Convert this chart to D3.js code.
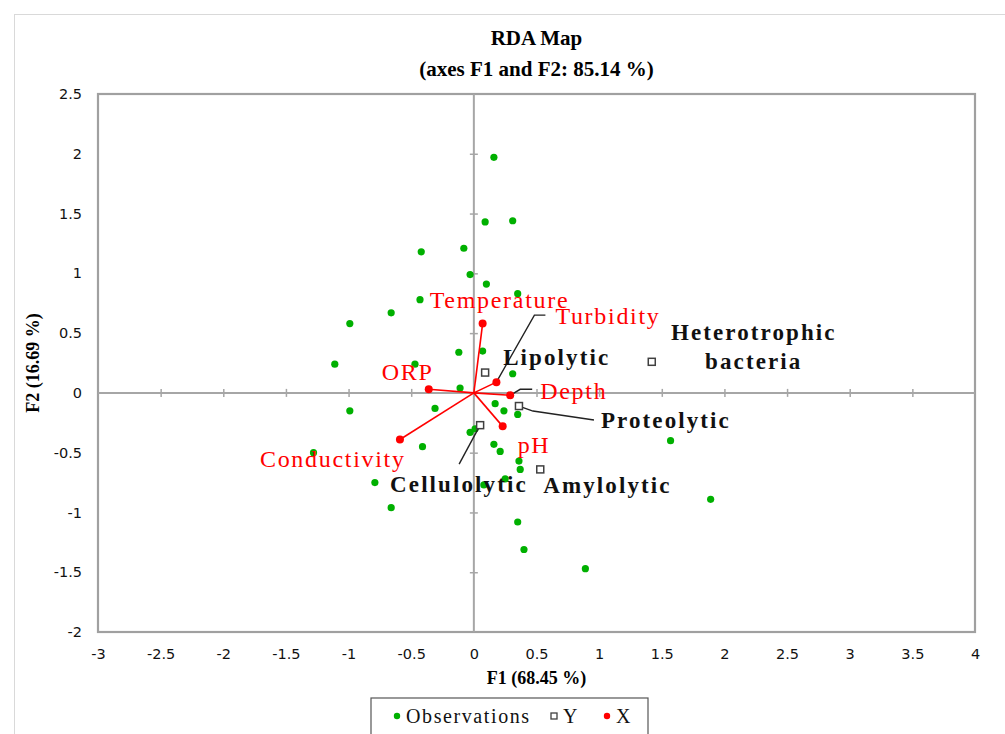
<!DOCTYPE html>
<html>
<head>
<meta charset="utf-8">
<script src="https://cdn.jsdelivr.net/npm/d3@7"></script>
<style>
  body { margin: 0; background: #fff; }
  svg { display: block; }
</style>
</head>
<body>
<div id="chart"></div>
<script>

/* chart data */
var xTicks = [-3, -2.5, -2, -1.5, -1, -0.5, 0, 0.5, 1, 1.5, 2, 2.5, 3, 3.5, 4];
var yTicks = [-2, -1.5, -1, -0.5, 0, 0.5, 1, 1.5, 2, 2.5];

// observations (green)
var obsF1 = [0.16, 0.09, 0.31, -0.42, -0.08, -0.03, 0.10, 0.35, -0.43, -0.66, -0.99,
             -1.11, -0.47, -0.12, 0.07, 0.31, -0.11, -0.99, -0.31, 0.17, 0.24, 0.35,
             -0.03, 0.01, -0.41, 0.16, 0.21, -1.28, 0.36, 0.37, -0.79, 0.08, 0.25,
             -0.66, 0.35, 0.40, 1.57, 1.89, 0.89];
var obsF2 = [1.97, 1.43, 1.44, 1.18, 1.21, 0.99, 0.91, 0.83, 0.78, 0.67, 0.58,
             0.24, 0.24, 0.34, 0.35, 0.16, 0.04, -0.15, -0.13, -0.09, -0.15, -0.18,
             -0.33, -0.30, -0.45, -0.43, -0.49, -0.50, -0.57, -0.64, -0.75, -0.77, -0.72,
             -0.96, -1.08, -1.31, -0.40, -0.89, -1.47];

// Y variables (squares)
var yNames = ["Lipolytic", "Proteolytic", "Heterotrophic bacteria", "Amylolytic", "Cellulolytic"];
var yF1 = [0.09, 0.36, 1.42, 0.53, 0.05];
var yF2 = [0.17, -0.11, 0.26, -0.64, -0.27];

// X variables (red vectors)
var xNames = ["Temperature", "Turbidity", "Depth", "pH", "Conductivity", "ORP"];
var xF1 = [0.07, 0.18, 0.29, 0.23, -0.59, -0.36];
var xF2 = [0.58, 0.09, -0.02, -0.28, -0.39, 0.03];

var legendNames = ["Observations", "Y", "X"];

/* label placement, pixel offsets from the point (lead = leader line bends) */
var xLabelPos = {
  "Temperature":  {dx: -53, dy: -16},
  "Turbidity":    {dx: 59, dy: -58, lead: [[38, -67], [49, -67]]},
  "Depth":        {dx: 30, dy: 4,  lead: [[10, -6], [22, -6]]},
  "pH":           {dx: 15, dy: 27},
  "Conductivity": {dx: -140, dy: 27},
  "ORP":          {dx: -47, dy: -9}
};
var yLabelPos = {
  "Lipolytic":    {dx: 18, dy: -8},
  "Proteolytic":  {dx: 82, dy: 22, lead: [[14, 5], [75, 14]]},
  "Heterotrophic bacteria": {dx: 102, dy: -22, center: true},
  "Amylolytic":   {dx: 3, dy: 24},
  "Cellulolytic": {dx: -90, dy: 67, lead: [[-21, 39]]}
};


var W = 1005, H = 734;
var margin = {top: 94, left: 98, right: 30, bottom: 102};
var width = W - margin.left - margin.right,
    height = H - margin.top - margin.bottom;

var x = d3.scaleLinear().domain([-3, 4]).range([0, width]);
var y = d3.scaleLinear().domain([-2, 2.5]).range([height, 0]);

var fmt = function (d) { return String(d); };
var serif = "'Liberation Serif', 'Times New Roman', serif";

var svg = d3.select("#chart").append("svg")
  .attr("width", W)
  .attr("height", H);

// outer chart border
svg.append("rect")
  .attr("x", 14.5).attr("y", 14.5)
  .attr("width", W).attr("height", H)
  .attr("fill", "none")
  .attr("stroke", "#d9d9d9");

// title
var title = svg.append("text")
  .attr("text-anchor", "middle")
  .style("font-family", serif)
  .style("font-weight", "bold")
  .style("font-size", "21px");
title.append("tspan").attr("x", margin.left + width / 2).attr("y", 45).text("RDA Map");
title.append("tspan").attr("x", margin.left + width / 2).attr("y", 76).text("(axes F1 and F2: 85.14 %)");

var g = svg.append("g")
  .attr("transform", "translate(" + margin.left + "," + margin.top + ")");

// frame
g.append("rect")
  .attr("width", width).attr("height", height)
  .attr("fill", "none")
  .attr("stroke", "#a0a0a0")
  .attr("stroke-width", 2.2);

// tick labels
var xAx = g.append("g")
  .attr("transform", "translate(0," + height + ")")
  .call(d3.axisBottom(x).tickValues(xTicks).tickFormat(fmt).tickSize(0).tickPadding(17));
var yAx = g.append("g")
  .call(d3.axisLeft(y).tickValues(yTicks).tickFormat(fmt).tickSize(0).tickPadding(16));
[xAx, yAx].forEach(function (a) {
  a.select(".domain").remove();
  a.selectAll("text")
    .style("font-family", "'DejaVu Sans', Verdana, sans-serif")
    .style("font-size", "14.5px")
    .attr("fill", "#111");
});

// zero lines with crossing ticks
g.append("line")
  .attr("x1", 0).attr("x2", width)
  .attr("y1", y(0)).attr("y2", y(0))
  .attr("stroke", "#a6a6a6").attr("stroke-width", 2);
g.append("line")
  .attr("x1", x(0)).attr("x2", x(0))
  .attr("y1", 0).attr("y2", height)
  .attr("stroke", "#a6a6a6").attr("stroke-width", 2);

var xz = g.append("g")
  .attr("transform", "translate(0," + (y(0) - 4) + ")")
  .call(d3.axisBottom(x).tickValues(xTicks.slice(1, -1)).tickFormat("").tickSize(8));
var yz = g.append("g")
  .attr("transform", "translate(" + (x(0) + 4) + ",0)")
  .call(d3.axisLeft(y).tickValues(yTicks.slice(1, -1)).tickFormat("").tickSize(8));
[xz, yz].forEach(function (a) {
  a.select(".domain").remove();
  a.selectAll("line").attr("stroke", "#a6a6a6").attr("stroke-width", 1.5);
});

// axis titles
svg.append("text")
  .attr("x", margin.left + width / 2)
  .attr("y", 684)
  .attr("text-anchor", "middle")
  .style("font-family", serif)
  .style("font-weight", "bold")
  .style("font-size", "18px")
  .text("F1 (68.45 %)");
svg.append("text")
  .attr("transform", "translate(39," + (margin.top + height / 2) + ") rotate(-90)")
  .attr("text-anchor", "middle")
  .style("font-family", serif)
  .style("font-weight", "bold")
  .style("font-size", "18px")
  .text("F2 (16.69 %)");

var green = "#00b000", red = "#ff0000", sqStroke = "#404040";

// observations
g.selectAll(".obs")
  .data(d3.range(obsF1.length))
  .enter().append("circle")
  .attr("class", "obs")
  .attr("cx", function (i) { return x(obsF1[i]); })
  .attr("cy", function (i) { return y(obsF2[i]); })
  .attr("r", 3.6)
  .attr("fill", green);

// X vectors
var xData = xNames.map(function (n, i) { return {name: n, f1: xF1[i], f2: xF2[i]}; });
g.selectAll(".vec")
  .data(xData)
  .enter().append("line")
  .attr("class", "vec")
  .attr("x1", x(0)).attr("y1", y(0))
  .attr("x2", function (d) { return x(d.f1); })
  .attr("y2", function (d) { return y(d.f2); })
  .attr("stroke", red)
  .attr("stroke-width", 1.6);

var yData = yNames.map(function (n, i) { return {name: n, f1: yF1[i], f2: yF2[i]}; });

// leader lines
function leader(d, pos) {
  var px = x(d.f1), py = y(d.f2);
  var pts = [[px, py]].concat(pos.lead.map(function (p) { return [px + p[0], py + p[1]]; }));
  g.append("path")
    .attr("d", d3.line()(pts))
    .attr("fill", "none")
    .attr("stroke", "#222")
    .attr("stroke-width", 1.4);
}
xData.forEach(function (d) { if (xLabelPos[d.name].lead) leader(d, xLabelPos[d.name]); });
yData.forEach(function (d) { if (yLabelPos[d.name].lead) leader(d, yLabelPos[d.name]); });

g.selectAll(".xpt")
  .data(xData)
  .enter().append("circle")
  .attr("class", "xpt")
  .attr("cx", function (d) { return x(d.f1); })
  .attr("cy", function (d) { return y(d.f2); })
  .attr("r", 4)
  .attr("fill", red);

g.selectAll(".ypt")
  .data(yData)
  .enter().append("rect")
  .attr("class", "ypt")
  .attr("x", function (d) { return x(d.f1) - 3.5; })
  .attr("y", function (d) { return y(d.f2) - 3.5; })
  .attr("width", 7).attr("height", 7)
  .attr("fill", "#fff")
  .attr("stroke", sqStroke)
  .attr("stroke-width", 1.5);

// labels
g.selectAll(".xlab")
  .data(xData)
  .enter().append("text")
  .attr("class", "xlab")
  .attr("x", function (d) { return x(d.f1) + xLabelPos[d.name].dx; })
  .attr("y", function (d) { return y(d.f2) + xLabelPos[d.name].dy; })
  .style("font-family", serif)
  .style("font-size", "24px")
  .style("letter-spacing", "1.7px")
  .attr("fill", red)
  .text(function (d) { return d.name; });

yData.forEach(function (d) {
  var pos = yLabelPos[d.name];
  var t = g.append("text")
    .style("font-family", serif)
    .style("font-weight", "bold")
    .style("font-size", "23px")
    .style("letter-spacing", "2.1px")
    .attr("fill", "#111");
  if (pos.center) {
    var words = d.name.split(" ");
    t.attr("text-anchor", "middle");
    words.forEach(function (w, k) {
      t.append("tspan")
        .attr("x", x(d.f1) + pos.dx)
        .attr("y", y(d.f2) + pos.dy + k * 29)
        .text(w);
    });
  } else {
    t.attr("x", x(d.f1) + pos.dx).attr("y", y(d.f2) + pos.dy).text(d.name);
  }
});

// legend
var lg = svg.append("g").attr("transform", "translate(371,698)");
lg.append("rect")
  .attr("width", 277).attr("height", 50)
  .attr("fill", "#fff")
  .attr("stroke", "#555")
  .attr("stroke-width", 1.2);
var legX = [26, 183, 236];
legendNames.forEach(function (n, i) {
  var it = lg.append("g").attr("transform", "translate(" + legX[i] + ",18)");
  if (n === "Y") {
    it.append("rect").attr("x", -3).attr("y", -3).attr("width", 6).attr("height", 6)
      .attr("fill", "#fff").attr("stroke", sqStroke).attr("stroke-width", 1.3);
  } else {
    it.append("circle").attr("r", 3.2).attr("fill", n === "X" ? red : green);
  }
  it.append("text")
    .attr("x", 9).attr("y", 7)
    .style("font-family", serif)
    .style("font-size", "20px")
    .style("letter-spacing", "1.6px")
    .attr("fill", "#111")
    .text(n);
});

</script>
</body>
</html>
